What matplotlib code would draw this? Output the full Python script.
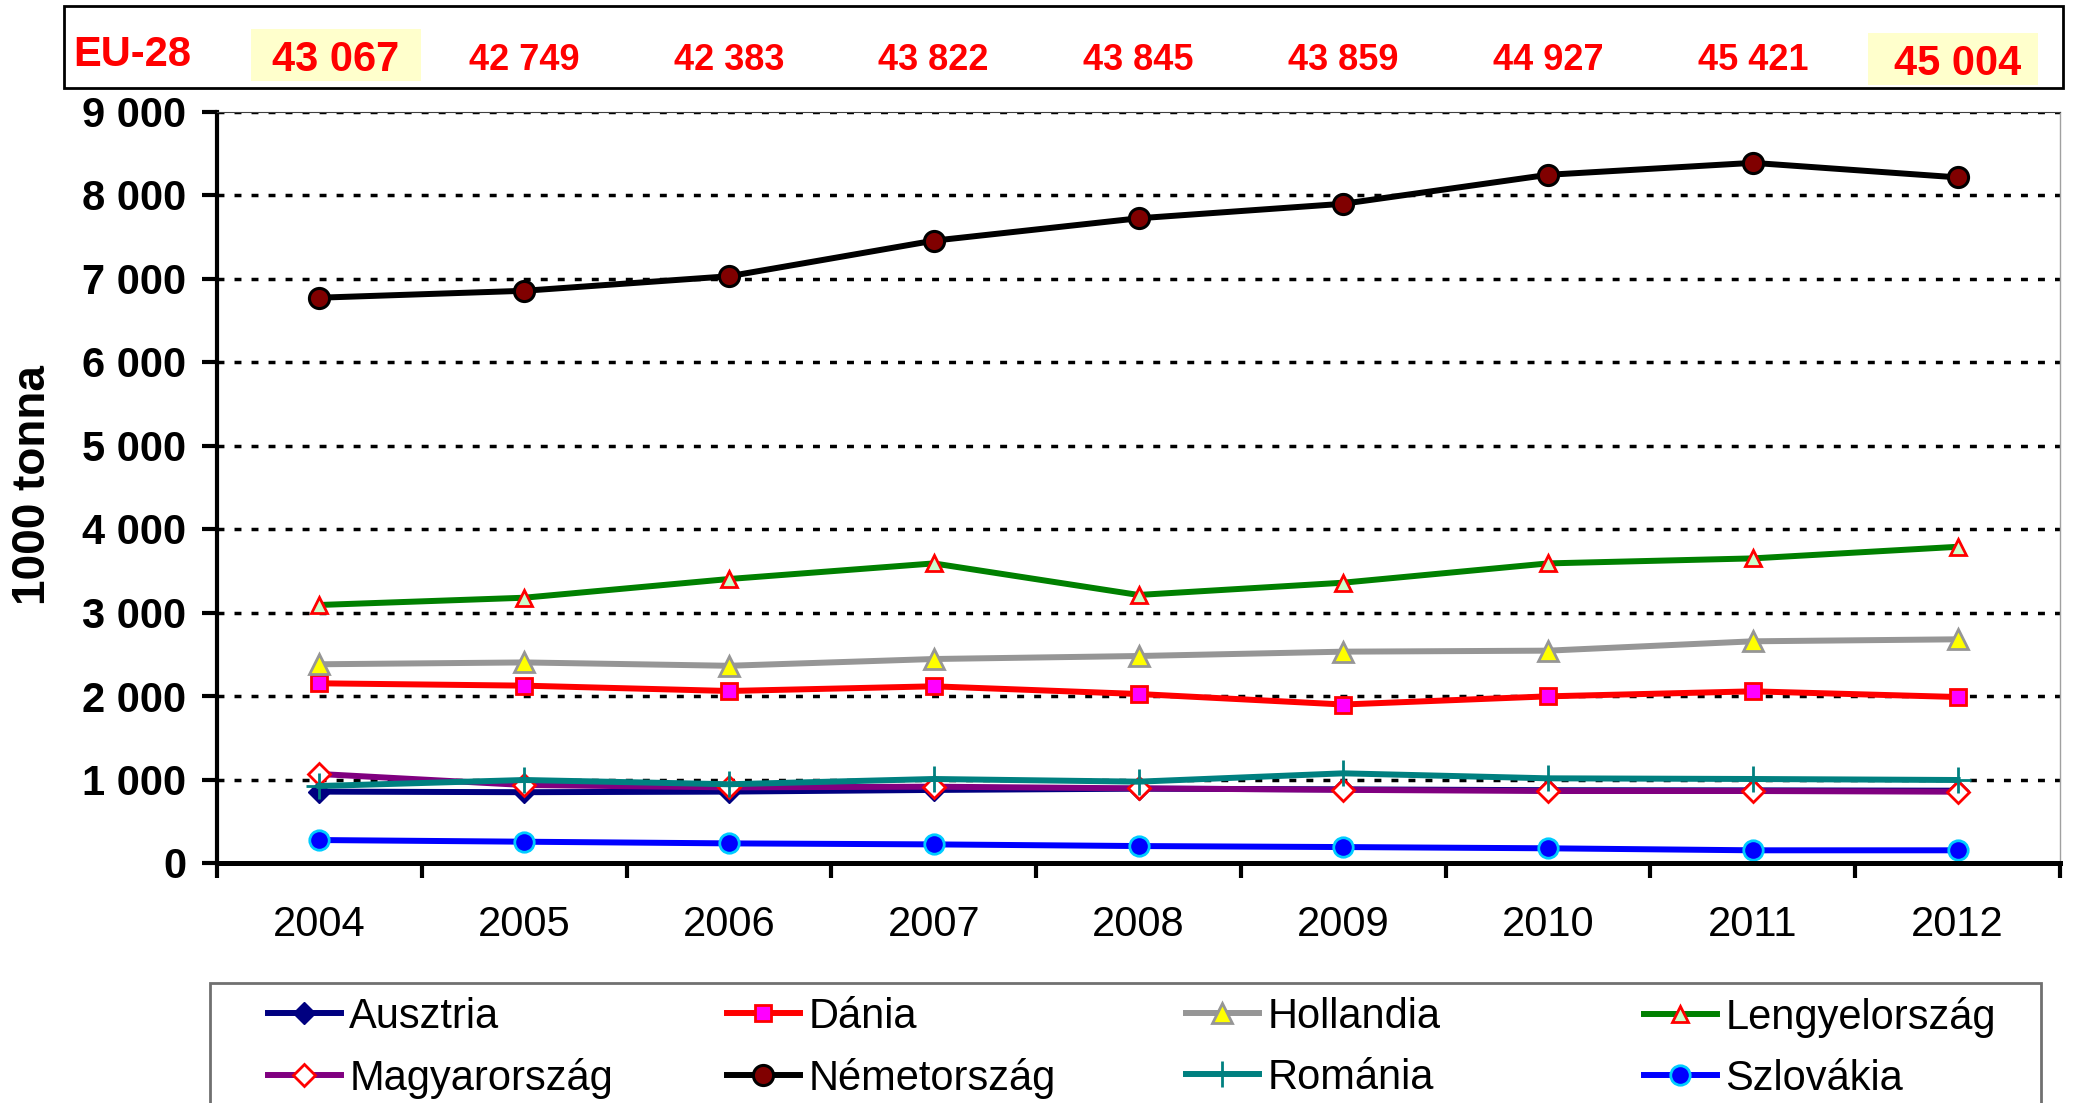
import matplotlib
matplotlib.use("Agg")
import matplotlib.pyplot as plt
from matplotlib.patches import Rectangle
from matplotlib.ticker import FuncFormatter
import matplotlib.transforms as mtransforms

plt.rcParams["font.family"] = ["Liberation Sans", "DejaVu Sans"]

years = ["2004", "2005", "2006", "2007", "2008", "2009", "2010", "2011", "2012"]
eu28 = ["43 067", "42 749", "42 383", "43 822", "43 845", "43 859", "44 927", "45 421", "45 004"]

ausztria = [855, 848, 855, 875, 890, 882, 872, 870, 866]
dania = [2152, 2124, 2060, 2116, 2024, 1898, 1996, 2056, 1988]
hollandia = [2380, 2402, 2362, 2443, 2479, 2531, 2543, 2655, 2679]
lengyelorszag = [3090, 3177, 3401, 3588, 3210, 3357, 3588, 3648, 3787]
magyarorszag = [1066, 934, 906, 914, 894, 876, 862, 862, 854]
nemetorszag = [6770, 6853, 7027, 7453, 7721, 7895, 8242, 8385, 8211]
romania = [922, 994, 943, 1006, 974, 1074, 1014, 1006, 994]
szlovakia = [275, 255, 235, 223, 203, 191, 176, 152, 152]

series = [
    ("Ausztria", ausztria, dict(color="#000080", marker="D", ms=11, mfc="#000080", mec="#000080")),
    ("Dánia", dania, dict(color="#FF0000", marker="s", ms=11, mfc="#FF00FF", mec="#FF0000", mew=2)),
    ("Hollandia", hollandia, dict(color="#969696", marker="^", ms=15, mfc="#FFFF00", mec="#969696", mew=2)),
    ("Lengyelország", lengyelorszag, dict(color="#008000", marker="^", ms=11, mfc="#CCFFCC", mec="#FF0000", mew=2)),
    ("Magyarország", magyarorszag, dict(color="#800080", marker="D", ms=11, mfc="white", mec="#FF0000", mew=2)),
    ("Németország", nemetorszag, dict(color="#000000", marker="o", ms=14.5, mfc="#800000", mec="#000000", mew=2.2)),
    ("Románia", romania, dict(color="#008080", marker="+", ms=19, mec="#008080", mew=2)),
    ("Szlovákia", szlovakia, dict(color="#0000FF", marker="o", ms=14, mfc="#0000FF", mec="#00CCFF", mew=2)),
]

W, H = 2074, 1103
fig = plt.figure(figsize=(W / 100, H / 100), dpi=100)
ax = fig.add_axes([217 / W, 1 - 863 / H, (2060 - 217) / W, (863 - 111.5) / H])

x = list(range(len(years)))
handles = []
for name, vals, st in series:
    h, = ax.plot(x, vals, lw=4.3, label=name, **st)
    handles.append(h)

ax.set_xlim(-0.5, len(years) - 0.5)
ax.set_ylim(0, 9000)
ax.set_yticks(range(0, 9001, 1000))
ax.yaxis.set_major_formatter(FuncFormatter(lambda v, p: f"{v:,.0f}".replace(",", " ")))
for v in range(1000, 9001, 1000):
    ax.axhline(v, color="black", lw=2.5, ls=(0, (2, 2.9)), zorder=0)

ax.set_xticks(x)
ax.set_xticklabels(years)
ax.set_xticks([i - 0.5 for i in range(len(years) + 1)], minor=True)
ax.tick_params(axis="x", which="major", length=0, pad=30, labelsize=30)
ax.tick_params(axis="x", which="minor", length=11, width=3, direction="out")
ax.tick_params(axis="y", length=11, width=3, pad=11, labelsize=30)
for lab in ax.get_yticklabels():
    lab.set_fontweight("bold")

ax.spines["top"].set_color("#404040")
ax.spines["top"].set_linewidth(0.8)
ax.spines["right"].set_color("#A0A0A0")
ax.spines["right"].set_linewidth(1)
ax.spines["left"].set_linewidth(3)
ax.spines["bottom"].set_linewidth(3.6)

fig.text(33 / W, 1 - 485 / H, "1000 tonna", rotation=90, ha="center", va="center",
         fontsize=33, fontweight="bold")

# EU-28 header box
fig.patches.append(Rectangle((64 / W, 1 - 88 / H), (2063 - 64) / W, (88 - 6) / H,
                             transform=fig.transFigure, fill=False, ec="black", lw=2))
for x0, y1 in [(251, 81), (1868, 85)]:
    fig.patches.append(Rectangle((x0 / W, 1 - y1 / H), 170 / W, 52 / H, zorder=-1,
                                 transform=fig.transFigure, fc="#FFFFCC", ec="none"))
fig.text(132 / W, 1 - 55 / H, "EU-28", ha="center", va="center", color="#FF0000",
         fontsize=30, fontweight="bold")
trans = mtransforms.blended_transform_factory(ax.transData, fig.transFigure)
for i, val in enumerate(eu28):
    big = i in (0, len(eu28) - 1)
    xo = 0.08 if i == 0 else 0.0
    yy = 64 if i == len(eu28) - 1 else 60
    ax.text(i + xo, 1 - yy / H, val, transform=trans, ha="center", va="center",
            color="#FF0000", fontsize=30 if big else 26, fontweight="bold")

# legend frame and columns
fig.patches.append(Rectangle((210 / W, -0.05), (2041 - 210) / W, 1 - 983 / H + 0.05,
                             transform=fig.transFigure, fill=False, ec="#707070", lw=2))
col_x = [268, 727, 1186, 1644]
for c, cx in enumerate(col_x):
    fig.legend([handles[c], handles[c + 4]], [handles[c].get_label(), handles[c + 4].get_label()],
               loc="upper left", bbox_to_anchor=(cx / W, 1 - 997 / H), frameon=False,
               fontsize=30, handlelength=1.75, handletextpad=0.2, labelspacing=0.5,
               borderpad=0, borderaxespad=0)

fig.savefig("out.png", dpi=100)
